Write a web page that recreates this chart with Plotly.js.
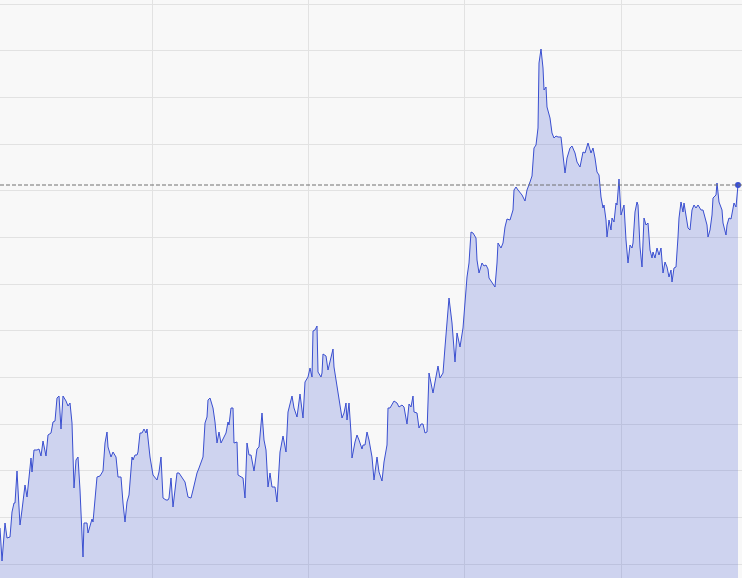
<!DOCTYPE html>
<html>
<head>
<meta charset="utf-8">
<script src="https://cdn.plot.ly/plotly-3.0.1.min.js"></script>
<style>html,body{margin:0;padding:0;background:#f8f8f8;}#chart{width:742px;height:578px;}</style>
</head>
<body>
<div id="chart"></div>
<script>
// Time position of each sample
const xs = [
  0,2,5,7,10,12,14,15,17,18,
  20,22,25,27,31,32,34,37,39,41,
  43,46,48,51,53,55,57,59,61,63,
  66,68,70,72,74,76,78,80,83,84,
  87,88,92,93,97,100,103,105,107,108,
  111,113,116,118,121,123,125,127,129,132,
  133,135,137,138,140,142,144,146,147,150,
  153,157,159,161,163,166,168,169,171,173,
  177,179,183,185,188,191,193,197,199,202,
  203,205,207,208,210,213,215,217,219,221,
  223,226,228,229,231,233,234,237,238,241,
  243,245,247,249,251,254,257,259,262,264,
  266,268,270,272,275,277,280,283,286,288,
  290,292,294,297,300,303,305,308,310,312,
  313,315,317,318,321,322,323,326,328,331,
  333,334,337,339,342,344,346,347,349,351,
  352,355,357,359,362,363,365,367,369,372,
  374,377,379,382,384,387,388,390,392,394,
  397,399,402,404,407,409,411,413,414,417,
  419,421,423,425,427,429,431,433,435,438,
  440,443,445,447,449,452,455,457,460,463,
  467,469,471,473,476,477,479,482,484,486,
  488,489,492,495,497,498,501,503,505,507,
  510,513,514,516,518,522,525,527,530,532,
  534,536,538,539,541,543,544,546,547,550,
  552,554,556,558,561,563,565,567,570,572,
  575,577,580,583,585,588,591,593,595,597,
  599,601,603,604,606,607,609,611,612,614,
  616,617,619,621,623,624,626,628,630,632,
  633,635,637,638,640,642,644,646,648,650,
  652,653,655,657,659,661,663,665,667,669,
  671,672,674,676,678,679,681,683,684,686,
  688,690,692,694,696,698,701,703,705,707,
  708,710,712,713,716,717,719,722,723,726,
  727,729,731,734,736,738
];
// Series values
const values = [
  50,17,55,40,41,66,75,75,107,88,
  53,68,93,81,120,106,128,128,129,122,
  137,122,143,145,156,157,180,182,149,182,
  177,172,175,155,90,118,121,88,21,55,
  55,45,59,56,101,102,107,135,146,131,
  121,126,121,101,101,75,56,76,83,121,
  118,123,123,126,145,145,149,145,149,121,
  103,98,106,121,80,78,78,80,100,71,
  105,105,98,96,81,80,88,105,110,120,
  121,155,161,178,180,170,156,135,146,135,
  139,145,156,153,170,170,135,136,103,101,
  100,80,135,123,123,107,129,131,165,138,
  128,91,105,91,91,76,126,142,126,166,
  173,182,170,161,184,160,196,201,210,201,
  247,248,252,206,201,205,224,222,208,220,
  229,211,190,178,160,165,175,158,175,145,
  120,136,143,138,129,133,133,146,138,121,
  98,121,106,97,116,133,170,170,174,177,
  175,171,173,171,154,174,171,182,166,165,
  150,154,154,145,146,205,195,185,196,212,
  200,205,231,260,280,255,216,245,231,250,
  301,315,346,345,340,318,305,315,312,313,
  309,300,295,291,315,335,330,335,351,359,
  358,368,388,391,388,383,377,388,396,402,
  430,433,450,515,529,510,488,491,471,460,
  445,440,442,441,441,421,405,420,430,432,
  425,416,411,426,425,435,425,430,420,406,
  403,381,370,373,358,341,358,348,360,356,
  375,373,399,363,370,373,338,315,333,330,
  335,366,376,373,331,311,360,353,355,328,
  320,326,320,330,323,330,305,316,311,301,
  308,296,310,311,341,360,376,366,375,361,
  350,348,368,373,370,373,368,368,360,353,
  341,348,363,380,383,395,376,368,355,343,
  353,360,359,375,371,393
];

const lastX = xs[xs.length - 1];
const lastY = values[values.length - 1];

const traces = [
  {
    x: xs, y: values, type: 'scatter', mode: 'lines',
    line: {color: '#3a4fd0', width: 1},
    fill: 'tozeroy', fillcolor: 'rgba(60,80,210,0.22)',
    hoverinfo: 'skip'
  },
  {
    x: [lastX], y: [lastY], type: 'scatter', mode: 'markers',
    marker: {color: '#3a4fd0', size: 6},
    hoverinfo: 'skip'
  }
];

const layout = {
  width: 742, height: 578,
  margin: {l: 0, r: 0, t: 0, b: 0, pad: 0},
  paper_bgcolor: '#f8f8f8', plot_bgcolor: '#f8f8f8',
  showlegend: false,
  xaxis: {
    range: [0, 742], tick0: 152.7, dtick: 156.1, tickmode: 'linear',
    showticklabels: false, ticks: '', showgrid: true, gridcolor: '#e2e2e2', gridwidth: 1,
    zeroline: false, showline: false, fixedrange: true
  },
  yaxis: {
    range: [0, 578], tick0: 13.7, dtick: 46.69, tickmode: 'linear',
    showticklabels: false, ticks: '', showgrid: true, gridcolor: '#e2e2e2', gridwidth: 1,
    zeroline: false, showline: false, fixedrange: true
  },
  shapes: [{
    type: 'line', xref: 'paper', x0: 0, x1: 1, yref: 'y', y0: lastY, y1: lastY,
    line: {color: '#707070', width: 1, dash: '4px,2px'}, layer: 'above'
  }]
};

Plotly.newPlot('chart', traces, layout, {staticPlot: true, displayModeBar: false});
</script>
</body>
</html>
